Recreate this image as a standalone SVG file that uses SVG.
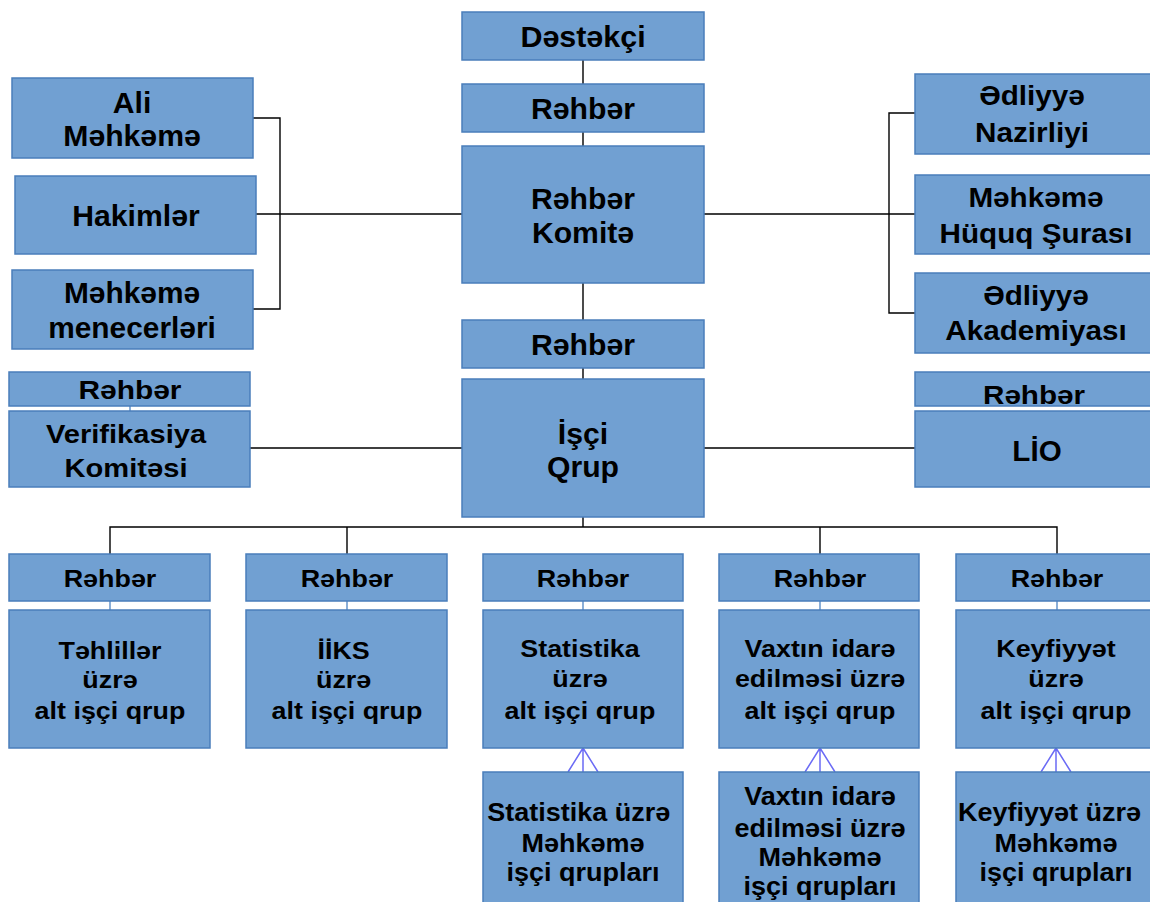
<svg xmlns="http://www.w3.org/2000/svg" width="1150" height="902" viewBox="0 0 1150 902">
<style>
.box{fill:#71A0D2;stroke:#4A7EBB;stroke-width:1.5}
.t{font-family:"Liberation Sans",Arial,sans-serif;font-weight:bold;fill:#000;text-anchor:middle}
.f29{font-size:29px}
.f28{font-size:28px}
.f26{font-size:26px}
.f25{font-size:25px}
.f24{font-size:24px}
.ln{stroke:#000;stroke-width:1.4;fill:none}
.lb{stroke:#5B8DC8;stroke-width:1.4;fill:none}
.cf{stroke:#6B6BF5;stroke-width:1.5;fill:none}
</style>
<rect width="1150" height="902" fill="#fff"/>
<g id="connectors">
<path class="ln" d="M583 60V84M583 132V146M583 283V320M583 368V379M583 517V527"/>
<path class="ln" d="M256 214H462M253 118H280V309H253"/>
<path class="ln" d="M704 214H915M915 113H889V313H915"/>
<path class="ln" d="M250 448H462M704 448H915"/>
<path class="ln" d="M110 554V527H1057V554M347 527V554M820 527V554"/>
<path class="lb" d="M130 406V411M110 601V610M347 601V610M583 601V610M820 601V610M1057 601V610"/>
<path class="cf" d="M583 748V772M583 748L568 772M583 748L598 772"/>
<path class="cf" d="M820 748V772M820 748L805 772M820 748L835 772"/>
<path class="cf" d="M1056 748V772M1056 748L1041 772M1056 748L1071 772"/>
</g>
<g id="destekci"><rect class="box" x="462" y="12" width="242" height="48"/><text class="t f29" transform="translate(583,0) scale(1.05,1)" y="47">Dəstəkçi</text></g>
<g id="rehber-top"><rect class="box" x="462" y="84" width="242" height="48"/><text class="t f29" transform="translate(583,0) scale(1.04,1)" y="119">Rəhbər</text></g>
<g id="rehber-komite"><rect class="box" x="462" y="146" width="242" height="137"/><text class="t f29" transform="translate(583,0) scale(1.04,1)"><tspan x="0" y="209">Rəhbər</tspan><tspan x="0" y="243">Komitə</tspan></text></g>
<g id="rehber-isci"><rect class="box" x="462" y="320" width="242" height="48"/><text class="t f29" transform="translate(583,0) scale(1.04,1)" y="355">Rəhbər</text></g>
<g id="isci-qrup"><rect class="box" x="462" y="379" width="242" height="138"/><text class="t f29" transform="translate(583,0) scale(1.04,1)"><tspan x="0" y="444">İşçi</tspan><tspan x="0" y="477">Qrup</tspan></text></g>
<g id="ali-mehkeme"><rect class="box" x="12" y="78" width="241" height="80"/><text class="t f29" transform="translate(132,0) scale(1.04,1)"><tspan x="0" y="113">Ali</tspan><tspan x="0" y="146">Məhkəmə</tspan></text></g>
<g id="hakimler"><rect class="box" x="15" y="176" width="241" height="78"/><text class="t f29" transform="translate(136,0) scale(1.04,1)" y="226">Hakimlər</text></g>
<g id="menecerler"><rect class="box" x="12" y="270" width="241" height="79"/><text class="t f29" transform="translate(132,0) scale(1.03,1)"><tspan x="0" y="303">Məhkəmə</tspan><tspan x="0" y="338">menecerləri</tspan></text></g>
<g id="edliyye-nazirliyi"><rect class="box" x="915" y="74" width="245" height="80"/><text class="t f28" transform="translate(1032,0) scale(1.06,1)"><tspan x="0" y="105">Ədliyyə</tspan><tspan x="0" y="142">Nazirliyi</tspan></text></g>
<g id="hmqs"><rect class="box" x="915" y="175" width="245" height="79"/><text class="t f28" transform="translate(1036,0) scale(1.06,1)"><tspan x="0" y="207">Məhkəmə</tspan><tspan x="0" y="243">Hüquq Şurası</tspan></text></g>
<g id="edliyye-akademiyasi"><rect class="box" x="915" y="273" width="245" height="80"/><text class="t f28" transform="translate(1036,0) scale(1.06,1)"><tspan x="0" y="305">Ədliyyə</tspan><tspan x="0" y="340">Akademiyası</tspan></text></g>
<g id="rehber-verif"><rect class="box" x="9" y="372" width="241" height="34"/><text class="t f26" transform="translate(130,0) scale(1.15,1)" y="399">Rəhbər</text></g>
<g id="verifikasiya"><rect class="box" x="9" y="411" width="241" height="76"/><text class="t f26" transform="translate(126,0) scale(1.12,1)"><tspan x="0" y="443">Verifikasiya</tspan><tspan x="0" y="477">Komitəsi</tspan></text></g>
<g id="rehber-lio"><rect class="box" x="915" y="372" width="245" height="34"/><text class="t f26" transform="translate(1034,0) scale(1.14,1)" y="404">Rəhbər</text></g>
<g id="lio"><rect class="box" x="915" y="411" width="245" height="76"/><text class="t f29" transform="translate(1037,0) scale(1.02,1)" y="461">LİO</text></g>
<g id="rehber-1"><rect class="box" x="9" y="554" width="201" height="47"/><text class="t f24" transform="translate(110,0) scale(1.12,1)" y="587">Rəhbər</text></g>
<g id="tehliller"><rect class="box" x="9" y="610" width="201" height="138"/><text class="t f24" transform="translate(110,0) scale(1.12,1)"><tspan x="0" y="659">Təhlillər</tspan><tspan x="0" y="688">üzrə</tspan><tspan x="0" y="719">alt işçi qrup</tspan></text></g>
<g id="rehber-2"><rect class="box" x="246" y="554" width="201" height="47"/><text class="t f24" transform="translate(347,0) scale(1.12,1)" y="587">Rəhbər</text></g>
<g id="iiks"><rect class="box" x="246" y="610" width="201" height="138"/><text class="t f24" transform="translate(347,0) scale(1.12,1)"><tspan x="-3" y="659">İİKS</tspan><tspan x="-3" y="688">üzrə</tspan><tspan x="0" y="719">alt işçi qrup</tspan></text></g>
<g id="rehber-3"><rect class="box" x="483" y="554" width="200" height="47"/><text class="t f24" transform="translate(583,0) scale(1.12,1)" y="587">Rəhbər</text></g>
<g id="statistika"><rect class="box" x="483" y="610" width="200" height="138"/><text class="t f24" transform="translate(580,0) scale(1.12,1)"><tspan x="0" y="657">Statistika</tspan><tspan x="0" y="687">üzrə</tspan><tspan x="0" y="719">alt işçi qrup</tspan></text></g>
<g id="rehber-4"><rect class="box" x="719" y="554" width="200" height="47"/><text class="t f24" transform="translate(820,0) scale(1.12,1)" y="587">Rəhbər</text></g>
<g id="vaxtin-idare"><rect class="box" x="719" y="610" width="200" height="138"/><text class="t f24" transform="translate(820,0) scale(1.12,1)"><tspan x="0" y="657">Vaxtın idarə</tspan><tspan x="0" y="687">edilməsi üzrə</tspan><tspan x="0" y="719">alt işçi qrup</tspan></text></g>
<g id="rehber-5"><rect class="box" x="956" y="554" width="200" height="47"/><text class="t f24" transform="translate(1057,0) scale(1.12,1)" y="587">Rəhbər</text></g>
<g id="keyfiyyet"><rect class="box" x="956" y="610" width="200" height="138"/><text class="t f24" transform="translate(1056,0) scale(1.12,1)"><tspan x="0" y="657">Keyfiyyət</tspan><tspan x="0" y="687">üzrə</tspan><tspan x="0" y="719">alt işçi qrup</tspan></text></g>
<g id="statistika-mehkeme"><rect class="box" x="483" y="772" width="200" height="140"/><text class="t f25" transform="translate(583,0) scale(1.08,1)"><tspan x="-4" y="821">Statistika üzrə</tspan><tspan x="0" y="852">Məhkəmə</tspan><tspan x="0" y="881">işçi qrupları</tspan></text></g>
<g id="vaxtin-mehkeme"><rect class="box" x="719" y="772" width="200" height="140"/><text class="t f25" transform="translate(820,0) scale(1.08,1)"><tspan x="0" y="805">Vaxtın idarə</tspan><tspan x="0" y="837">edilməsi üzrə</tspan><tspan x="0" y="866">Məhkəmə</tspan><tspan x="0" y="895">işçi qrupları</tspan></text></g>
<g id="keyfiyyet-mehkeme"><rect class="box" x="956" y="772" width="200" height="140"/><text class="t f25" transform="translate(1056,0) scale(1.08,1)"><tspan x="-6" y="821">Keyfiyyət üzrə</tspan><tspan x="0" y="852">Məhkəmə</tspan><tspan x="0" y="881">işçi qrupları</tspan></text></g>
</svg>
